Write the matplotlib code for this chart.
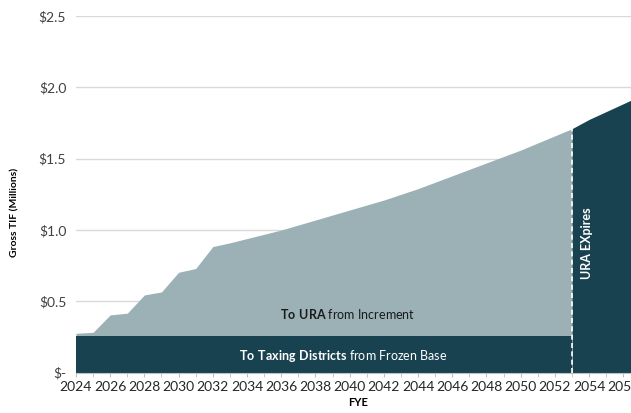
import numpy as np
import matplotlib
matplotlib.use("Agg")
import matplotlib.pyplot as plt
from matplotlib.ticker import FuncFormatter, MultipleLocator

plt.rcParams["font.family"] = ["Lato", "DejaVu Sans"]
plt.rcParams["mathtext.fontset"] = "custom"
plt.rcParams["mathtext.rm"] = "Lato"
plt.rcParams["mathtext.bf"] = "Lato:bold"

# gross TIF by fiscal year end, $ millions
years = list(range(2024, 2058))
total = [0.276, 0.283, 0.405, 0.417, 0.545, 0.566, 0.704, 0.730, 0.884, 0.910,
         0.940, 0.970, 1.000, 1.035, 1.070, 1.105, 1.140, 1.175, 1.210, 1.250,
         1.290, 1.335, 1.380, 1.425, 1.470, 1.515, 1.560, 1.610, 1.660, 1.710,
         1.775, 1.830, 1.885, 1.940]
frozen_base = 0.26
expiry = 2053

LIGHT = "#9bb1b6"
DARK = "#18424f"

yrs = np.array(years)
tot = np.array(total)
pre = yrs <= expiry
post = yrs >= expiry

fig = plt.figure(figsize=(6.31, 4.13), dpi=100)
ax = fig.add_axes([0.1204, 0.0976, 0.8945, 0.8637])

ax.fill_between(yrs[pre], frozen_base, tot[pre], color=LIGHT, lw=0, zorder=2)
ax.fill_between(yrs[pre], 0, frozen_base, color=DARK, lw=0, zorder=2)
ax.fill_between(yrs[post], 0, tot[post], color=DARK, lw=0, zorder=2)
ax.plot([expiry, expiry], [0, tot[years.index(expiry)]], color="white",
        ls=(0, (3, 2)), lw=1.2, zorder=3)

ax.set_xlim(2024, 2057)
ax.set_ylim(0, 2.5)
ax.xaxis.set_major_locator(MultipleLocator(2))
ax.xaxis.set_minor_locator(MultipleLocator(1))
ax.yaxis.set_major_locator(MultipleLocator(0.5))
ax.yaxis.set_major_formatter(FuncFormatter(lambda v, p: "$-" if v == 0 else f"${v:.1f}"))
ax.grid(axis="y", color="#d9d9d9", lw=1, zorder=0)
ax.set_axisbelow(True)
for s in ("top", "right", "left"):
    ax.spines[s].set_visible(False)
ax.spines["bottom"].set_color("#bfbfbf")
ax.tick_params(axis="y", length=0, labelsize=10, colors="#404040", pad=7)
ax.tick_params(axis="x", which="both", length=3, color="#bfbfbf",
               labelsize=10, labelcolor="#262626", pad=3)

ax.set_xlabel("FYE", fontsize=8, fontweight="bold", labelpad=3)
ax.set_ylabel("Gross TIF (Millions)", fontsize=7.5, fontweight="bold")
ax.yaxis.set_label_coords(-0.1, 0.45)

ax.text(2039.9, 0.41, r"$\bf{To\ URA}$ from Increment", ha="center", va="center",
        fontsize=9, color="#1a1a1a", zorder=4)
ax.text(2039.6, 0.12, r"$\bf{To\ Taxing\ Districts}$ from Frozen Base", ha="center",
        va="center", fontsize=9, color="white", zorder=4)
ax.text(2053.9, 0.91, "URA EXpires", rotation=90, ha="center", va="center",
        fontsize=9, fontweight="bold", color="white", zorder=4)

fig.savefig("out.png", dpi=100)
